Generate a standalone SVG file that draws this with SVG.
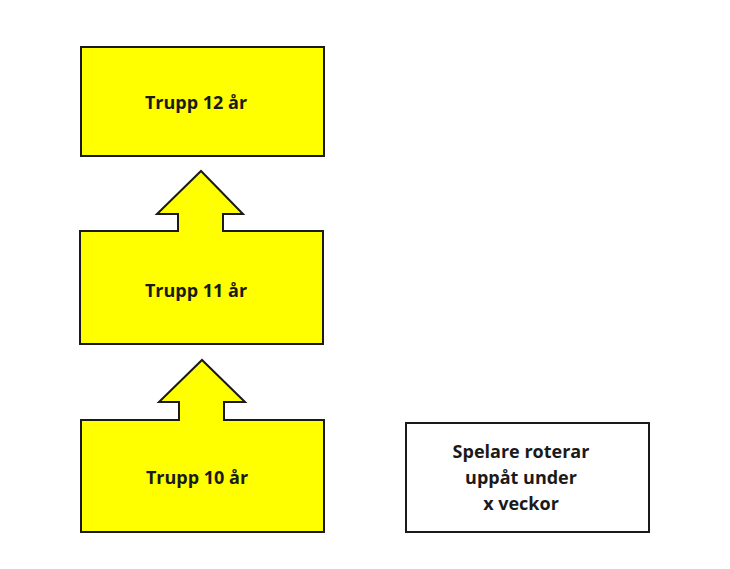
<svg xmlns="http://www.w3.org/2000/svg" width="730" height="569" viewBox="0 0 730 569">
<style>
.box{fill:#FFFF00;stroke:#1a1a1a;stroke-width:2}
.note{fill:#ffffff;stroke:#1a1a1a;stroke-width:2}
.arrow{fill:#FFFF00;stroke:#1a1a1a;stroke-width:2;stroke-linejoin:miter}
.lbl{font-family:"Open Sans","Liberation Sans",sans-serif;font-weight:bold;font-size:18px;fill:#1a1a1a;text-anchor:middle}
</style>
<rect width="730" height="569" fill="#ffffff"/>
<g id="trupp12">
<rect class="box" x="81" y="47" width="243" height="109"/>
<text class="lbl" x="196" y="109">Trupp 12 år</text>
</g>
<g id="trupp11">
<rect class="box" x="80" y="231" width="243" height="113"/>
<text class="lbl" x="196" y="297">Trupp 11 år</text>
</g>
<g id="trupp10">
<rect class="box" x="81" y="420" width="243" height="112"/>
<text class="lbl" x="197" y="484">Trupp 10 år</text>
</g>
<g id="note">
<rect class="note" x="406" y="423" width="243" height="109"/>
<text class="lbl" x="521" y="458">Spelare roterar</text>
<text class="lbl" x="521" y="484">uppåt under</text>
<text class="lbl" x="521" y="510">x veckor</text>
</g>
<g id="connectors">
<path class="arrow" d="M178,232 V214 H157 L201,171 L243,214 H223 V232"/>
<path class="arrow" d="M179,421 V402 H159 L202,360 L245,402 H224 V421"/>
</g>
</svg>
